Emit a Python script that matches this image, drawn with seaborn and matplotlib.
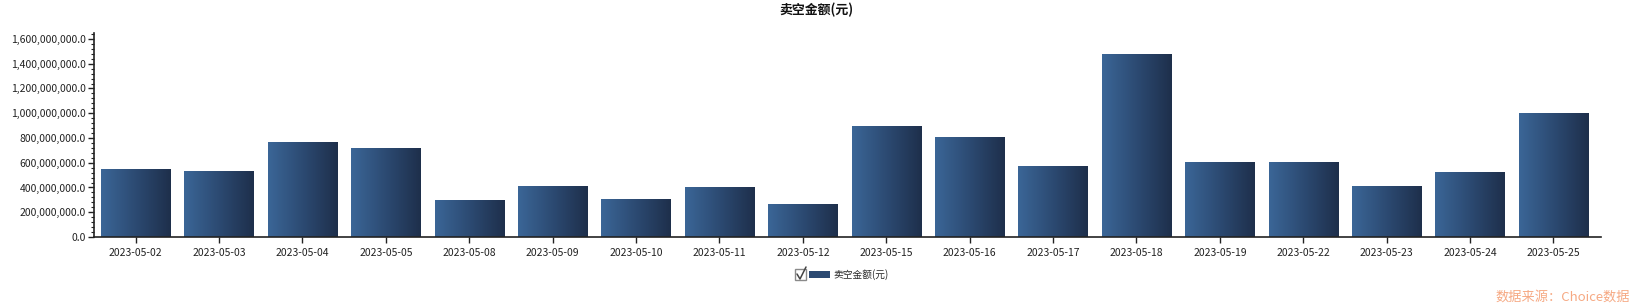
import numpy as np
import pandas as pd
import matplotlib
matplotlib.use("Agg")
import matplotlib.pyplot as plt
import seaborn as sns
from matplotlib.ticker import FuncFormatter, MultipleLocator
from matplotlib.colors import LinearSegmentedColormap
from matplotlib.patches import Patch, Rectangle
from matplotlib.lines import Line2D

dates = ["2023-05-02", "2023-05-03", "2023-05-04", "2023-05-05", "2023-05-08",
         "2023-05-09", "2023-05-10", "2023-05-11", "2023-05-12", "2023-05-15",
         "2023-05-16", "2023-05-17", "2023-05-18", "2023-05-19", "2023-05-22",
         "2023-05-23", "2023-05-24", "2023-05-25"]
short_amount = [549e6, 533e6, 768e6, 719e6, 299e6,
                412e6, 307e6, 404e6, 267e6, 897e6,
                808e6, 574e6, 1479e6, 606e6, 606e6,
                412e6, 525e6, 1002e6]
series_name = "卖空金额(元)"
title = "卖空金额(元)"
source = "数据来源：Choice数据"

df = pd.DataFrame({"date": dates, "value": short_amount})

sns.set_theme(style="white")
plt.rcParams['font.family'] = ['Noto Sans CJK SC', 'DejaVu Sans']

W, H = 1632, 304
fig = plt.figure(figsize=(W / 100, H / 100), dpi=100)
ax = fig.add_axes([94 / W, 1 - 237 / H, (1601 - 94) / W, (237 - 33) / H])

sns.barplot(data=df, x="date", y="value", ax=ax, width=0.83,
            color="#2c4a72", saturation=1, edgecolor="none")

cmap = LinearSegmentedColormap.from_list("g", ["#3b6697", "#2c4a72", "#1e2f4b"])
grad = np.linspace(0, 1, 256).reshape(1, -1)
for p in ax.patches:
    x0, y0 = p.get_x(), p.get_y()
    w, h = p.get_width(), p.get_height()
    im = ax.imshow(grad, cmap=cmap, aspect="auto", extent=[x0, x0 + w, y0, y0 + h],
                   zorder=p.get_zorder() + 0.1, interpolation="bilinear")
    im.set_clip_path(p)
    p.set_facecolor("none")

ax.set_xlim(-0.5, 17.57)
ax.set_ylim(0, 1.648e9)
ax.yaxis.set_major_locator(MultipleLocator(2e8))
ax.yaxis.set_minor_locator(MultipleLocator(4e7))
ax.yaxis.set_major_formatter(FuncFormatter(lambda v, _: f"{v:,.1f}"))
ax.set_xlabel("")
ax.set_ylabel("")

for s in ["top", "right"]:
    ax.spines[s].set_visible(False)
for s in ["left", "bottom"]:
    ax.spines[s].set_color("#222222")
    ax.spines[s].set_linewidth(1.2)

ax.tick_params(axis="y", which="major", left=True, length=4, width=1, color="#222222",
               labelsize=7.5, labelcolor="#222222", pad=2)
ax.tick_params(axis="y", which="minor", left=True, length=2, width=0.8, color="#222222")
ax.tick_params(axis="x", which="major", bottom=True, length=4, width=1, color="#222222",
               labelsize=7.5, labelcolor="#222222", pad=4)

fig.text(816 / W, 1 - 10 / H, title, ha="center", va="center", fontsize=9.3,
         fontweight="bold", color="#111111")

# legend checkbox
fig.patches.append(Rectangle((795 / W, 1 - 280 / H), 11 / W, 11 / H, transform=fig.transFigure,
                             facecolor="white", edgecolor="#8a8a8a", linewidth=1))
fig.lines.append(Line2D([797 / W, 800 / W, 806 / W], [1 - 274 / H, 1 - 279 / H, 1 - 267 / H],
                        transform=fig.transFigure, color="#444444", linewidth=1.1))
leg = fig.legend(handles=[Patch(facecolor="#2c4a72", edgecolor="none", label=series_name)],
                 loc="center left", bbox_to_anchor=(807 / W, 1 - 274.5 / H), frameon=False,
                 fontsize=7, handlelength=2.2, handleheight=0.6, handletextpad=0.3,
                 borderpad=0.2, borderaxespad=0)

fig.text(1630 / W, 1 - 297 / H, source, ha="right", va="center", fontsize=9.5,
         color="#f6a983")

fig.savefig("out.png", dpi=100, facecolor="white")
